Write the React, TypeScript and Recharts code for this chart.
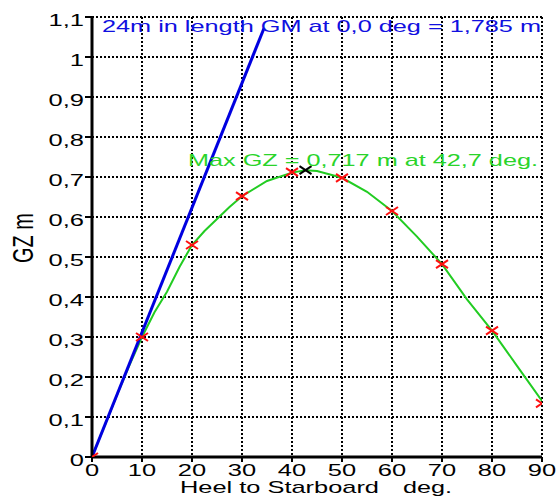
import {
  ComposedChart,
  Line,
  Scatter,
  XAxis,
  YAxis,
  CartesianGrid,
} from "recharts";

// heel angle (deg) / GZ (m)
const markerHeel = [0, 10, 20, 30, 40, 50, 60, 70, 80, 90];
const markerGZ = [0, 0.3, 0.53, 0.652, 0.712, 0.698, 0.615, 0.482, 0.316, 0.134];

const curveHeel = [0, 2.5, 5, 7.5, 10, 12.5, 15, 17.5, 20, 22.5, 25, 27.5, 30, 35, 40, 42.7, 45, 50, 55, 60, 65, 70, 75, 80, 85, 90];
const curveGZ = [0, 0.077, 0.155, 0.23, 0.3, 0.362, 0.413, 0.475, 0.53, 0.565, 0.595, 0.625, 0.652, 0.69, 0.711, 0.717, 0.715, 0.698, 0.663, 0.615, 0.551, 0.482, 0.394, 0.316, 0.228, 0.14];

const gmHeel = [0, 34.4];
const gmGZ = [0, 1.072];

const maxHeel = [42.7];
const maxGZ = [0.717];

const xTicks = [0, 10, 20, 30, 40, 50, 60, 70, 80, 90];
const yTicks = [0, 0.1, 0.2, 0.3, 0.4, 0.5, 0.6, 0.7, 0.8, 0.9, 1, 1.1];

const zip = (xs: number[], ys: number[]) => xs.map((x, i) => ({ x, y: ys[i] }));

const markers = zip(markerHeel, markerGZ);
const curve = zip(curveHeel, curveGZ);
const gmLine = zip(gmHeel, gmGZ);
const maxPt = zip(maxHeel, maxGZ);

const FONT = "'Liberation Sans', Arial, sans-serif";

const fmtGZ = (v: number) => {
  const s = v.toFixed(1);
  return s.endsWith(".0") ? s.slice(0, -2) : s.replace(".", ",");
};

const YTick = ({ x, y, payload }: any) => (
  <g transform={`translate(${x},${y + 9})`}>
    <text transform="scale(1.5,1)" textAnchor="end" fontFamily={FONT} fontSize={17} fill="#000">
      {fmtGZ(payload.value)}
    </text>
  </g>
);

const XTick = ({ x, y, payload }: any) => (
  <g transform={`translate(${x},${y + 13})`}>
    <text transform="scale(1.5,1)" textAnchor="middle" fontFamily={FONT} fontSize={17} fill="#000">
      {payload.value}
    </text>
  </g>
);

const Cross = (color: string) => (p: any) => {
  const { cx, cy } = p;
  if (cx == null || cy == null) return <g />;
  return (
    <g stroke={color} strokeWidth={2}>
      <line x1={cx - 6} y1={cy - 4} x2={cx + 6} y2={cy + 4} />
      <line x1={cx - 6} y1={cy + 4} x2={cx + 6} y2={cy - 4} />
    </g>
  );
};

export default function App() {
  return (
    <div style={{ position: "absolute", left: 0, top: 0, width: 559, height: 499, background: "#fff" }}>
      <ComposedChart width={559} height={499} margin={{ top: 17, right: 17, left: 0, bottom: 0 }}>
        <CartesianGrid stroke="#000" strokeWidth={2} strokeDasharray="2 2" />
        <XAxis
          type="number"
          dataKey="x"
          domain={[0, 90]}
          ticks={xTicks}
          allowDataOverflow
          height={42}
          tickSize={5}
          tickMargin={1}
          axisLine={{ stroke: "#000", strokeWidth: 3 }}
          tickLine={{ stroke: "#000", strokeWidth: 2 }}
          tick={<XTick />}
        />
        <YAxis
          type="number"
          dataKey="y"
          domain={[0, 1.1]}
          ticks={yTicks}
          allowDataOverflow
          width={92}
          tickSize={7}
          tickMargin={1}
          axisLine={{ stroke: "#000", strokeWidth: 3 }}
          tickLine={{ stroke: "#000", strokeWidth: 2 }}
          tick={<YTick />}
        />
        <Line data={curve} dataKey="y" type="linear" stroke="#22cc22" strokeWidth={2} dot={false} isAnimationActive={false} />
        <Line data={gmLine} dataKey="y" type="linear" stroke="#0000e0" strokeWidth={3} dot={false} isAnimationActive={false} />
        <Scatter data={markers} dataKey="y" shape={Cross("#ff1010")} isAnimationActive={false} />
        <Scatter data={maxPt} dataKey="y" shape={Cross("#000")} isAnimationActive={false} />
      </ComposedChart>
      <svg width={559} height={499} style={{ position: "absolute", left: 0, top: 0, pointerEvents: "none" }}>
        <text x={102} y={32} fontFamily={FONT} fontSize={17} fill="#1010e0" textLength={439} lengthAdjust="spacingAndGlyphs">
          24m in length GM at 0,0 deg = 1,785 m
        </text>
        <text x={188} y={166} fontFamily={FONT} fontSize={17} fill="#2ad42a" textLength={350} lengthAdjust="spacingAndGlyphs">
          Max GZ = 0,717 m at 42,7 deg.
        </text>
        <text x={180} y={493} fontFamily={FONT} fontSize={17} fill="#000" textLength={199} lengthAdjust="spacingAndGlyphs">
          Heel to Starboard
        </text>
        <text x={403} y={493} fontFamily={FONT} fontSize={17} fill="#000" textLength={49} lengthAdjust="spacingAndGlyphs">
          deg.
        </text>
        <g transform="translate(33,238) scale(1.5,1) rotate(-90)">
          <text x={0} y={0} textAnchor="middle" fontFamily={FONT} fontSize={20} fill="#000">
            GZ m
          </text>
        </g>
      </svg>
    </div>
  );
}
